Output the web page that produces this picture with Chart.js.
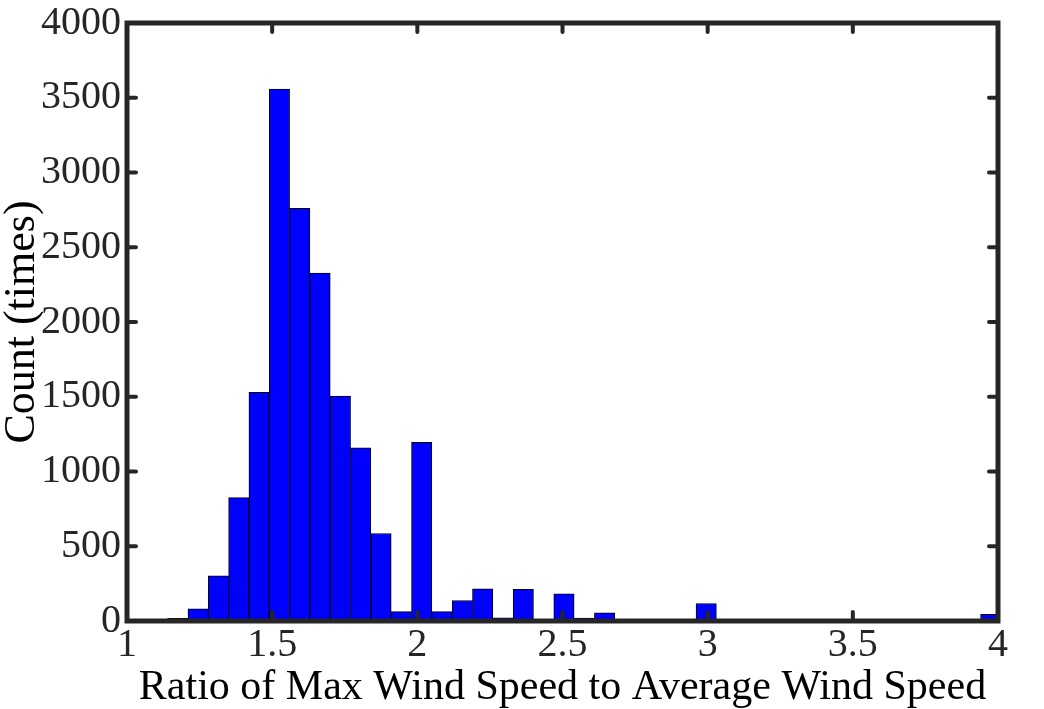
<!DOCTYPE html>
<html>
<head>
<meta charset="utf-8">
<script src="https://cdn.jsdelivr.net/npm/chart.js@4.4.0/dist/chart.umd.min.js"></script>
<style>
  html, body { margin: 0; padding: 0; background: #fff; }
  #wrap { width: 1044px; height: 709px; }
</style>
</head>
<body>
<div id="wrap"><canvas id="histChart"></canvas></div>
<script>
// histogram bins (centres, bin width 0.07) and counts
const binCenters = [1.035, 1.105, 1.175, 1.245, 1.315, 1.385, 1.455, 1.525, 1.595, 1.665,
                    1.735, 1.805, 1.875, 1.945, 2.015, 2.085, 2.155, 2.225, 2.295, 2.365,
                    2.435, 2.505, 2.575, 2.645, 2.715, 2.785, 2.855, 2.925, 2.995, 3.065,
                    3.135, 3.205, 3.275, 3.345, 3.415, 3.485, 3.555, 3.625, 3.695, 3.765,
                    3.835, 3.905, 3.975];
const counts = [8, 0, 18, 81, 302, 825, 1530, 3558, 2761, 2327,
                1505, 1158, 585, 63, 1195, 63, 137, 215, 22, 212,
                0, 182, 20, 55, 10, 0, 0, 0, 117, 0,
                0, 0, 10, 10, 0, 0, 0, 0, 8, 0,
                0, 0, 45];
const xTicks = [1, 1.5, 2, 2.5, 3, 3.5, 4];
const yTicks = [0, 500, 1000, 1500, 2000, 2500, 3000, 3500, 4000];

const axisColor = '#262626';
const serif = "'Liberation Serif', 'DejaVu Serif', serif";

// box round the plot with inward tick marks on all four sides
const framePlugin = {
    id: 'frame',
    afterDatasetsDraw(chart) {
        const ctx = chart.ctx;
        const a = chart.chartArea;
        const xs = chart.scales.x;
        const ys = chart.scales.y;
        const len = 9;
        ctx.save();
        ctx.strokeStyle = axisColor;
        ctx.lineCap = 'round';
        ctx.lineWidth = 4;
        xTicks.forEach(v => {
            const px = xs.getPixelForValue(v);
            ctx.beginPath();
            ctx.moveTo(px, a.bottom); ctx.lineTo(px, a.bottom - len);
            ctx.moveTo(px, a.top); ctx.lineTo(px, a.top + len);
            ctx.stroke();
        });
        yTicks.forEach(v => {
            const py = ys.getPixelForValue(v);
            ctx.beginPath();
            ctx.moveTo(a.left, py); ctx.lineTo(a.left + len, py);
            ctx.moveTo(a.right, py); ctx.lineTo(a.right - len, py);
            ctx.stroke();
        });
        ctx.lineCap = 'square';
        ctx.lineWidth = 5;
        ctx.strokeRect(a.left, a.top, a.right - a.left, a.bottom - a.top);
        ctx.restore();
    }
};

const ctx = document.getElementById('histChart').getContext('2d');

new Chart(ctx, {
    type: 'bar',
    data: {
        datasets: [{
            label: 'Count',
            data: binCenters.map((c, i) => ({ x: c, y: counts[i] })),
            backgroundColor: '#0000ff',
            borderColor: '#000000',
            borderWidth: 1,
            barPercentage: 1.0,
            categoryPercentage: 1.0
        }]
    },
    options: {
        responsive: true,
        maintainAspectRatio: false,
        animation: false,
        layout: { padding: { top: 23, right: 46, bottom: 0, left: 0 } },
        plugins: {
            legend: { display: false },
            tooltip: { enabled: false }
        },
        scales: {
            x: {
                type: 'linear',
                min: 1,
                max: 4,
                offset: false,
                grid: { display: false, drawTicks: false },
                border: { display: false },
                afterBuildTicks: (scale) => { scale.ticks = xTicks.map(v => ({ value: v })); },
                afterFit: (scale) => { scale.height = 88; },
                ticks: {
                    color: axisColor,
                    font: { family: serif, size: 40, lineHeight: 1.0 },
                    padding: 4,
                    maxRotation: 0,
                    callback: (v) => String(v)
                },
                title: {
                    display: true,
                    text: 'Ratio of Max Wind Speed to Average Wind Speed',
                    color: '#000',
                    font: { family: serif, size: 42, lineHeight: 1.0 },
                    padding: { top: 0, bottom: 0 }
                }
            },
            y: {
                min: 0,
                max: 4000,
                grid: { display: false, drawTicks: false },
                border: { display: false },
                afterBuildTicks: (scale) => { scale.ticks = yTicks.map(v => ({ value: v })); },
                afterFit: (scale) => { scale.width = 127; scale.paddingTop = 0; },
                ticks: {
                    color: axisColor,
                    font: { family: serif, size: 40, lineHeight: 0.8 },
                    padding: 6,
                    callback: (v) => String(v)
                },
                title: {
                    display: true,
                    text: 'Count (times)',
                    color: '#000',
                    font: { family: serif, size: 44, lineHeight: 1.0 },
                    padding: { top: 0, bottom: 0 }
                }
            }
        }
    },
    plugins: [framePlugin]
});
</script>
</body>
</html>
